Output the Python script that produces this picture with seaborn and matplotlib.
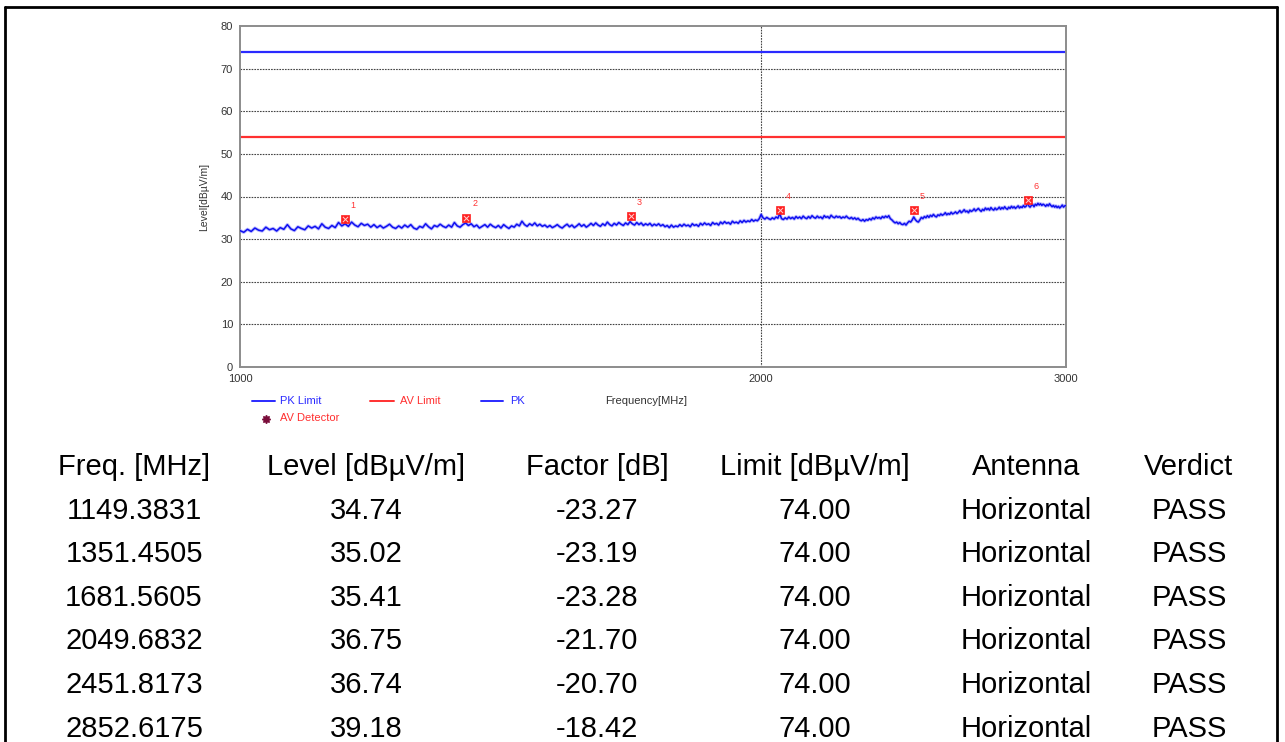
import numpy as np
import pandas as pd
import seaborn as sns
import matplotlib
matplotlib.use("Agg")
import matplotlib.pyplot as plt
from matplotlib.lines import Line2D

# ---------------- data ----------------
sweep_start = 1000.0
sweep_stop = 3000.0
pk_trace = [
    32.0, 31.6, 32.3, 31.8, 32.6, 32.1, 31.9, 32.8, 32.2, 32.5,
    31.9, 32.7, 32.3, 33.4, 32.4, 32.0, 32.9, 32.5, 32.2, 33.1,
    32.6, 33.0, 32.4, 33.6, 32.8, 32.5, 33.2, 32.7, 33.9, 33.1,
    33.6, 33.0, 34.0, 33.3, 32.9, 33.7, 33.2, 33.5, 32.8, 33.4,
    32.7, 33.2, 32.6, 33.0, 33.5, 32.8, 32.5, 33.1, 32.6, 33.3,
    32.8, 33.4, 32.6, 32.3, 33.0, 32.7, 33.6, 32.9, 32.4, 33.2,
    32.9, 33.5, 33.0, 32.7, 33.3, 32.8, 33.9, 33.1, 32.8, 33.4,
    33.8, 33.2, 33.6, 32.9, 33.3, 32.6, 33.0, 33.4, 32.8, 33.5,
    33.0, 32.7, 33.2, 32.6, 33.4, 32.9, 32.5, 33.1, 32.8, 33.5,
    33.1, 34.2, 33.4, 33.0, 33.6, 33.2, 33.8, 33.1, 33.5, 33.0,
    33.3, 32.8, 33.2, 32.7, 33.0, 33.4, 32.9, 32.6, 33.1, 33.5,
    32.9, 33.3, 32.7, 33.1, 33.6, 33.0, 33.4, 32.8, 33.2, 33.7,
    33.2, 33.8, 33.3, 33.0, 33.6, 33.2, 34.0, 33.4, 33.1, 33.7,
    33.3, 33.9, 33.5, 33.2, 33.8, 33.4, 34.1, 33.6, 33.3, 33.9,
    33.4, 33.8, 33.2, 33.6, 33.3, 33.7, 33.1, 33.5, 33.2, 33.6,
    33.1, 33.4, 32.9, 33.2, 32.7, 33.3, 32.8, 33.1, 32.9, 33.4,
    33.0, 33.5, 33.1, 33.3, 32.9, 33.6, 33.2, 33.4, 33.0, 33.7,
    33.3, 33.8, 33.4, 33.6, 33.2, 33.9, 33.5, 33.7, 33.3, 34.0,
    33.6, 34.1, 33.7, 33.9, 33.5, 34.2, 33.8, 34.0, 33.7, 34.3,
    33.9, 34.4, 34.0, 34.3, 34.1, 34.6, 34.2, 34.5, 34.3, 34.8,
    35.8, 35.0, 34.7, 35.1, 34.8, 34.6, 35.0, 34.7, 35.2, 34.9,
    36.0, 34.8, 34.6, 35.0, 34.7, 35.2, 34.8, 35.1, 34.7, 35.3,
    34.9, 35.2, 34.8, 35.4, 35.0, 34.8, 35.3, 34.9, 35.5, 35.1,
    34.9, 35.4, 35.0, 35.2, 34.8, 35.5, 35.1, 35.3, 34.9, 35.6,
    35.2, 35.0, 35.4, 35.1, 35.3, 34.9, 35.2, 35.0, 35.4, 35.0,
    34.8, 35.1, 34.7, 35.0, 34.6, 34.9, 34.5, 34.3, 34.6, 34.2,
    34.6, 34.4, 34.8, 34.5, 35.0, 34.7, 35.2, 34.9, 35.1, 34.8,
    35.3, 35.0, 35.4, 35.1, 35.5, 34.8, 34.5, 34.1, 33.8, 34.0,
    33.6, 33.9, 33.5, 33.4, 33.7, 33.3, 33.8, 34.2, 34.0, 34.5,
    35.2, 34.6, 34.2, 34.0, 34.5, 35.1, 34.8, 35.3, 35.0, 35.5,
    35.1, 35.6, 35.3, 35.8, 35.4, 35.2, 35.7, 35.5, 35.9, 35.6,
    35.8, 36.2, 35.7, 36.0, 35.8, 36.3, 35.9, 36.1, 36.4, 36.0,
    36.3, 36.7, 36.2, 36.5, 36.9, 36.4, 36.6, 36.2, 36.8, 36.5,
    36.7, 37.1, 36.6, 36.9, 37.2, 36.8, 36.5, 37.0, 36.7, 37.3,
    36.9, 37.2, 36.8, 37.4, 37.0, 36.8, 37.3, 36.9, 37.1, 37.5,
    37.0, 37.4, 37.1, 37.6, 37.2, 37.0, 37.5, 37.2, 37.7, 37.3,
    37.6, 37.2, 37.5, 37.8, 37.3, 37.6, 37.4, 37.9, 37.5, 37.7,
    38.5, 37.8, 37.5, 37.9, 38.1, 37.6, 38.2, 37.9, 38.4, 38.0,
    38.3, 37.9, 38.2, 38.0, 37.7, 38.1, 37.8, 38.3, 37.9, 37.6,
    37.9, 37.5, 37.8, 37.4, 37.7, 37.3, 37.6, 38.0, 37.5, 37.8,
    37.9,
]
pk_limit = 74.0
av_limit = 54.0

marker_freq = [1149.3831, 1351.4505, 1681.5605, 2049.6832, 2451.8173, 2852.6175]
marker_level = [34.74, 35.02, 35.41, 36.75, 36.74, 39.18]
marker_factor = [-23.27, -23.19, -23.28, -21.70, -20.70, -18.42]
marker_limit = [74.00, 74.00, 74.00, 74.00, 74.00, 74.00]
marker_antenna = ["Horizontal"] * 6
marker_verdict = ["PASS"] * 6

table_headers = ["Freq. [MHz]", "Level [dBµV/m]", "Factor [dB]",
                 "Limit [dBµV/m]", "Antenna", "Verdict"]

y_ticks = [0, 10, 20, 30, 40, 50, 60, 70, 80]
x_ticks = [1000, 2000, 3000]

# ---------------- figure ----------------
sns.set_style("white")
plt.rcParams['font.family'] = ['Liberation Sans', 'DejaVu Sans']

W, H = 1285, 742
fig = plt.figure(figsize=(W / 100, H / 100), dpi=100)

def fx(px):
    return px / W

def fy(py):
    return 1 - py / H

ax = fig.add_axes([fx(240), fy(367), fx(1066) - fx(240), fy(26) - fy(367)])

freqs = np.linspace(sweep_start, sweep_stop, len(pk_trace))
df = pd.DataFrame({"freq": freqs, "level": pk_trace})
mk = pd.DataFrame({"freq": marker_freq, "level": marker_level})

ax.set_xscale("log")
ax.set_xlim(1000, 3000)
ax.set_ylim(0, 80)

# grid
for yv in y_ticks[1:-1]:
    ax.axhline(yv, color="#444444", lw=0.8, ls=(0, (1.5, 1)), zorder=1)
ax.axvline(2000, color="#444444", lw=0.8, ls=(0, (1.5, 1)), zorder=1)

# limits
ax.axhline(pk_limit, color="#2a2aff", lw=1.6, zorder=2)
ax.axhline(av_limit, color="#ff3030", lw=1.6, zorder=2)

# trace (soft halo + core)
sns.lineplot(data=df, x="freq", y="level", ax=ax, color="#8f8fff", lw=2.4,
             alpha=0.6, zorder=3, legend=False)
sns.lineplot(data=df, x="freq", y="level", ax=ax, color="#1010f0", lw=1.1,
             zorder=4, legend=False)

# markers
sns.scatterplot(data=mk, x="freq", y="level", ax=ax, marker="s", s=40,
                color="#ff2020", edgecolor="#ff2020", linewidth=0.5, zorder=5,
                legend=False)
sns.scatterplot(data=mk, x="freq", y="level", ax=ax, marker="x", s=14,
                color="#ffd0d0", linewidth=0.7, zorder=6, legend=False)
for i, (f, l) in enumerate(zip(marker_freq, marker_level)):
    ax.annotate(str(i + 1), (f, l), xytext=(6, 10), textcoords="offset points",
                fontsize=6.5, color="#ff3333", ha="center", va="center")

ax.set_xticks(x_ticks)
ax.set_xticklabels([str(v) for v in x_ticks])
ax.xaxis.set_minor_locator(matplotlib.ticker.NullLocator())
ax.set_yticks(y_ticks)
ax.set_yticklabels([str(v) for v in y_ticks])
ax.tick_params(axis="both", labelsize=8, colors="#333333", length=3,
               width=0.8, pad=2)
ax.tick_params(axis="y", direction="out", length=3)
ax.tick_params(axis="x", length=0, pad=5)
ax.set_xlabel("")
ax.set_ylabel("Level[dBµV/m]", fontsize=7.5, color="#333333", labelpad=8)
for s in ax.spines.values():
    s.set_color("#8c8c8c")
    s.set_linewidth(1.4)

# legend (manual)
def leg_line(x0, x1, y, color):
    fig.add_artist(Line2D([fx(x0), fx(x1)], [fy(y), fy(y)], color=color, lw=1.4))

leg_line(252, 275, 401, "#2a2aff")
fig.text(fx(280), fy(401), "PK Limit", fontsize=8, color="#2a2aff", va="center")
leg_line(370, 394, 401, "#ff3030")
fig.text(fx(400), fy(401), "AV Limit", fontsize=8, color="#ff3030", va="center")
leg_line(481, 503, 401, "#2a2aff")
fig.text(fx(510), fy(401), "PK", fontsize=8, color="#2a2aff", va="center")
fig.text(fx(605), fy(401), "Frequency[MHz]", fontsize=8, color="#333333", va="center")
fig.add_artist(Line2D([fx(266)], [fy(419)], marker=(8, 1, 0), ms=6,
                      color="#7a0c3a", lw=0))
fig.text(fx(280), fy(418), "AV Detector", fontsize=8, color="#ff3030", va="center")

# table
col_x = [134, 366, 597, 815, 1026, 1189]
row_y0 = 467
row_dy = 43.6
tfs = 21
for cx, h in zip(col_x, table_headers):
    fig.text(fx(cx), fy(row_y0), h, fontsize=tfs, ha="center", va="center",
             color="black")
for r in range(len(marker_freq)):
    vals = [f"{marker_freq[r]:.4f}", f"{marker_level[r]:.2f}",
            f"{marker_factor[r]:.2f}", f"{marker_limit[r]:.2f}",
            marker_antenna[r], marker_verdict[r]]
    yy = row_y0 + row_dy * (r + 1)
    for cx, v in zip(col_x, vals):
        fig.text(fx(cx), fy(yy), v, fontsize=tfs, ha="center", va="center",
                 color="black")

# outer frame (no bottom edge)
fw = 2.0
fig.add_artist(Line2D([fx(5), fx(5)], [0, fy(7)], color="black", lw=fw))
fig.add_artist(Line2D([fx(5), fx(1277)], [fy(7), fy(7)], color="black", lw=fw))
fig.add_artist(Line2D([fx(1277), fx(1277)], [fy(7), 0], color="black", lw=fw))

fig.savefig("out.png", dpi=100, facecolor="white")
